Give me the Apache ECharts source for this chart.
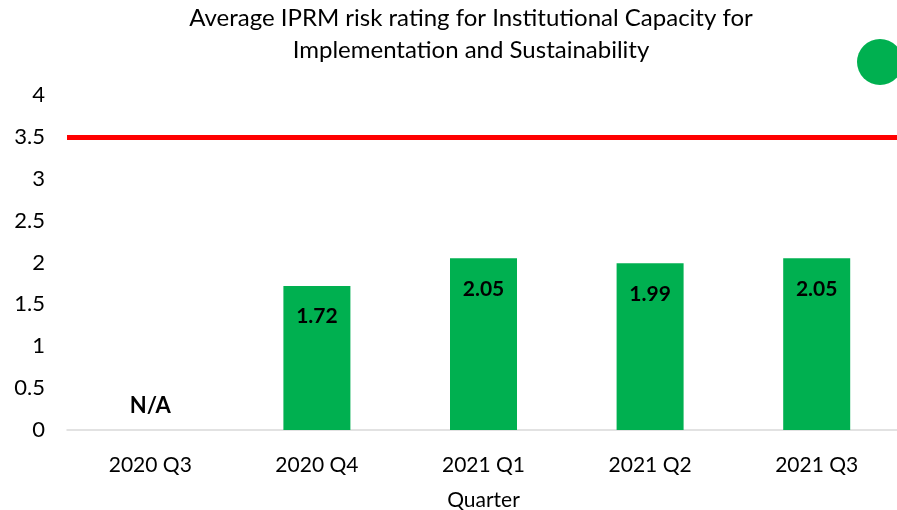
<!DOCTYPE html>
<html>
<head>
<meta charset="utf-8">
<script src="https://cdn.jsdelivr.net/npm/echarts@6/dist/echarts.min.js"></script>
<style>
html,body{margin:0;padding:0;background:#fff;}
#main{width:897px;height:510px;}
</style>
</head>
<body>
<div id="main"></div>
<script>
var quarters = ['2020 Q3', '2020 Q4', '2021 Q1', '2021 Q2', '2021 Q3'];
var ratings = [null, 1.72, 2.05, 1.99, 2.05];
var threshold = 3.5;

var myChart = echarts.init(document.getElementById('main'));
var font = 'Lato, "Open Sans", sans-serif';

var barData = ratings.map(function (v) {
  if (v === null) {
    // no rating that quarter
    return {value: 0, label: {show: true, position: 'top', distance: 13, fontSize: 22, formatter: 'N/A'}};
  }
  return v;
});

var option = {
  title: {
    text: 'Average IPRM risk rating for Institutional Capacity for\nImplementation and Sustainability',
    left: 466,
    textAlign: 'center',
    top: -3,
    textStyle: {fontFamily: font, fontSize: 24, fontWeight: 'normal', color: '#000', lineHeight: 32}
  },
  graphic: [{
    type: 'circle',
    shape: {cx: 880, cy: 62, r: 23},
    style: {fill: '#00b050'}
  }],
  grid: {left: 67, top: 95, width: 833, height: 335, containLabel: false, outerBoundsMode: 'none'},
  xAxis: {
    type: 'category',
    data: quarters,
    name: 'Quarter',
    nameLocation: 'middle',
    nameGap: 60,
    nameTextStyle: {fontFamily: font, fontSize: 21, color: '#000'},
    axisLine: {lineStyle: {color: '#d9d9d9', width: 1.5}},
    axisTick: {show: false},
    axisLabel: {fontFamily: font, fontSize: 21, color: '#000', margin: 25}
  },
  yAxis: {
    type: 'value',
    min: 0,
    max: 4,
    interval: 0.5,
    splitLine: {show: false},
    axisLine: {show: false},
    axisTick: {show: false},
    axisLabel: {fontFamily: font, fontSize: 22, color: '#000', margin: 22}
  },
  series: [{
    type: 'bar',
    data: barData,
    barWidth: 67,
    itemStyle: {color: '#00b050'},
    label: {
      show: true,
      position: 'insideTop',
      distance: 20,
      fontFamily: font,
      fontSize: 21,
      fontWeight: 'bold',
      color: '#000',
      formatter: function (p) { return p.value.toFixed(2); }
    },
    markLine: {
      silent: true,
      symbol: 'none',
      label: {show: false},
      lineStyle: {color: '#ff0000', width: 5, type: 'solid'},
      data: [{yAxis: threshold}]
    }
  }]
};

myChart.setOption(option);
</script>
</body>
</html>
